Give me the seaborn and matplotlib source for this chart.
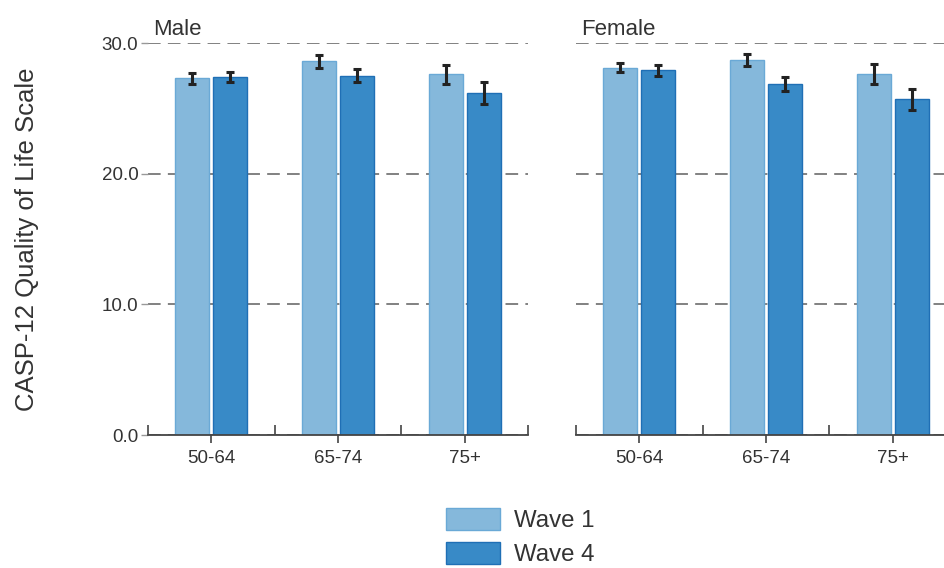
"""CASP-12 quality of life by age group, sex and wave"""
import matplotlib
matplotlib.use("Agg")
import matplotlib.pyplot as plt
from matplotlib.patches import Patch
from matplotlib.ticker import FixedLocator, FormatStrFormatter
import pandas as pd
import seaborn as sns

sexes = ["Male", "Female"]
ages = ["50-64", "65-74", "75+"]
waves = ["Wave 1", "Wave 4"]

# means and half-width of error bars, ordered age x wave
male_mean = [27.3, 27.4, 28.6, 27.5, 27.6, 26.2]
male_err = [0.4, 0.4, 0.5, 0.5, 0.75, 0.85]
female_mean = [28.1, 27.9, 28.7, 26.85, 27.65, 25.7]
female_err = [0.35, 0.4, 0.45, 0.55, 0.75, 0.8]

fill_colors = ["#85b8db", "#388ac7"]
edge_colors = ["#6aa9d6", "#1f6fb5"]

rows = []
for sex, means, errs in [("Male", male_mean, male_err), ("Female", female_mean, female_err)]:
    i = 0
    for age in ages:
        for wave in waves:
            rows.append({"sex": sex, "age": age, "wave": wave, "mean": means[i], "err": errs[i]})
            i += 1
df = pd.DataFrame(rows)

sns.set_theme(style="white")
plt.rcParams["font.family"] = ["Liberation Sans", "DejaVu Sans"]
text_color = "#333333"

fig = plt.figure(figsize=(9.44, 5.68), dpi=100)
W, H = 944, 568
ax_w, ax_h = 380 / W, 392 / H
bottom = (H - 435) / H
axes = [fig.add_axes([148 / W, bottom, ax_w, ax_h]),
        fig.add_axes([576 / W, bottom, ax_w, ax_h])]

for ax, sex in zip(axes, sexes):
    sub = df[df["sex"] == sex]
    sns.barplot(data=sub, x="age", y="mean", hue="wave", order=ages, hue_order=waves,
                palette=fill_colors, width=0.6, gap=0.1, errorbar=None, legend=False,
                linewidth=1.0, saturation=1, ax=ax)
    bar_containers = list(ax.containers)
    for k, cont in enumerate(bar_containers):
        wave_rows = sub[sub["wave"] == waves[k]].set_index("age").loc[ages]
        xs = []
        for bar in cont:
            bar.set_edgecolor(edge_colors[k])
            xs.append(bar.get_x() + bar.get_width() / 2)
        ax.errorbar(xs, wave_rows["mean"], yerr=wave_rows["err"], fmt="none",
                    ecolor="#222222", elinewidth=2.2, capsize=3.2, capthick=2.2, zorder=5)

    ax.set_xlim(-0.5, 2.5)
    ax.set_ylim(0, 30)
    ax.set_yticks([0, 10, 20, 30])
    ax.yaxis.grid(True, linestyle=(0, (7, 4)), color="#777777", linewidth=1.3)
    ax.set_axisbelow(True)
    ax.xaxis.set_minor_locator(FixedLocator([-0.5, 0.5, 1.5, 2.5]))
    ax.tick_params(axis="x", which="major", direction="out", length=6, width=1.2,
                   color="#444444", labelsize=13.5, labelcolor=text_color, pad=5, bottom=True)
    ax.tick_params(axis="x", which="minor", direction="in", length=7, width=1.2,
                   color="#444444", bottom=True)
    ax.tick_params(axis="y", direction="out", length=5, width=1.0, color="#999999",
                   labelsize=13.5, labelcolor=text_color, pad=2, left=True)
    for side in ["top", "right", "left"]:
        ax.spines[side].set_visible(False)
    ax.spines["bottom"].set_color("#444444")
    ax.spines["bottom"].set_linewidth(1.3)
    ax.set_xlabel("")
    ax.set_ylabel("")
    ax.text(0.013, 1.008, sex, transform=ax.transAxes, ha="left", va="bottom",
            fontsize=16, color=text_color)

axes[0].yaxis.set_major_formatter(FormatStrFormatter("%.1f"))
axes[1].tick_params(axis="y", labelleft=False, left=False)
axes[0].set_ylabel("CASP-12 Quality of Life Scale", fontsize=18.5, color=text_color, labelpad=45)

handles = [Patch(facecolor=fill_colors[i], edgecolor=edge_colors[i], linewidth=1.0, label=waves[i])
           for i in range(2)]
fig.legend(handles=handles, loc="upper left", bbox_to_anchor=(446 / W, 1 - 508 / H),
           frameon=False, fontsize=17.3, handlelength=2.25, handleheight=1.0,
           handletextpad=0.6, labelspacing=0.42, borderpad=0, borderaxespad=0,
           labelcolor=text_color)

fig.savefig("out.png", dpi=100)
